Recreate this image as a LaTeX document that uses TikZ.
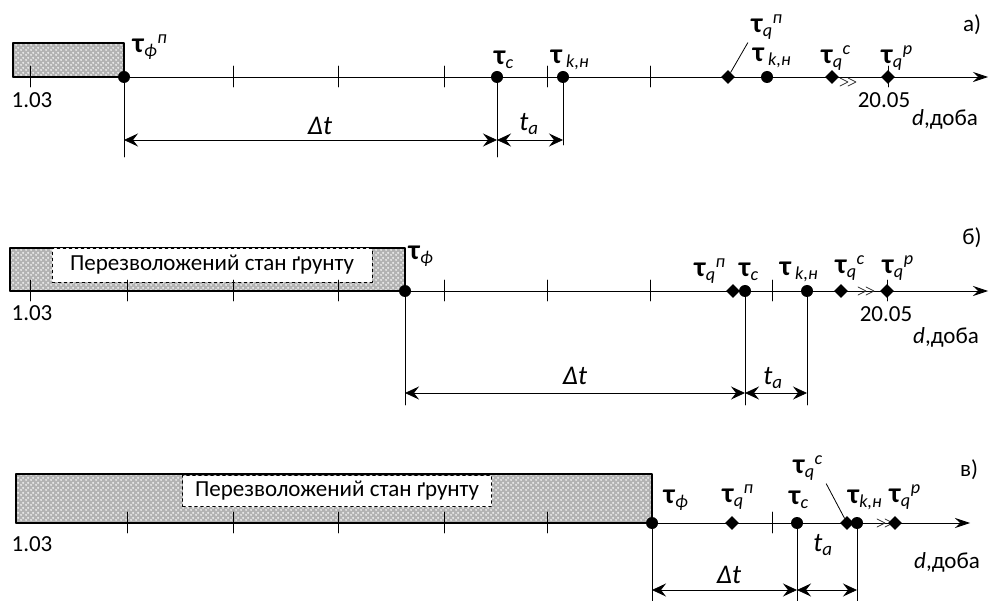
\documentclass[tikz,border=0pt]{standalone}
\usepackage{fontspec}
\setmainfont{Carlito}
\usetikzlibrary{arrows.meta, calc, positioning, patterns, shapes.geometric}

\pgfdeclarepatternformonly{soildots}{\pgfpointorigin}{\pgfqpoint{5pt}{5pt}}{\pgfqpoint{5pt}{5pt}}{%
  \pgfpathcircle{\pgfqpoint{1.25pt}{1.25pt}}{1.3pt}%
  \pgfpathcircle{\pgfqpoint{3.75pt}{3.75pt}}{1.3pt}%
  \pgfusepath{fill}}

\newcommand{\tq}[2]{{\fontsize{28}{28}\selectfont\textbf{τ}}{\fontsize{26}{26}\selectfont\textsubscript{\textit{#1}}\textsuperscript{\textit{#2}}}}
\newcommand{\ts}[1]{{\fontsize{28}{28}\selectfont\textbf{τ}}{\fontsize{26}{26}\selectfont\textsubscript{\textit{#1}}}}
\newcommand{\tkn}{{\fontsize{28}{28}\selectfont\textbf{τ}}\,{\fontsize{26}{26}\selectfont\textsubscript{\textit{k,н}}}}

\tikzset{
  dot/.style={circle, fill=black, inner sep=0pt, minimum size=12pt},
  romb/.style={diamond, fill=black, inner sep=0pt, minimum size=14pt},
  soil/.style={line width=1.6pt, preaction={fill=gray!60}, pattern=soildots, pattern color=gray!15},
  soilnote/.style={draw, dashed, thin, fill=white, inner sep=0pt},
  axis/.style={line width=0.8pt, -{Stealth[length=15pt, width=10pt, inset=5pt]}},
  dim/.style={line width=0.8pt, {Stealth[length=14pt, width=13pt, inset=5pt]}-{Stealth[length=14pt, width=13pt, inset=5pt]}},
  dimlbl/.style={font=\fontsize{27}{27}\selectfont\itshape},
  tk/.style={line width=0.8pt},
  brk/.style={gray!40!black, line width=0.7pt}
}

\begin{document}
\begin{tikzpicture}[x=1pt, y=-1pt, font=\fontsize{23}{26}\selectfont, line cap=round, line join=round]
  \useasboundingbox (0,0) rectangle (990,601);

  % ---- a) ----
  \coordinate (a0) at (13,77);
  \coordinate (a1) at (988,77);
  \draw[soil] (13,43) rectangle (124,77);
  \draw[axis] (a0) -- (a1);
  \foreach \x in {30,233,338,444,547,650,888}
    \draw[tk] (\x,66) -- (\x,87);
  \foreach \x in {840,848}
    \draw[brk] (\x,78) -- (\x+8,82) -- (\x,86);
  \node[dot] (fa) at (124,77) {};
  \node[dot] (ca) at (497,77) {};
  \node[dot] (kna) at (563,77) {};
  \node[romb] (qpa) at (728,77) {};
  \node[dot] (kna2) at (767,77) {};
  \node[romb] (qca) at (832,77) {};
  \node[romb] (qra) at (888,77) {};
  \node (lfa) at (150,47) {\tq{ф}{п}};
  \node (lca) at (504,60) {\ts{c}};
  \node (lkna) at (570,60) {\tkn};
  \node (lqpa) at (767,27) {\tq{q}{п}};
  \node (lkna2) at (772,58) {\tkn};
  \node (lqca) at (836,58) {\tq{q}{c}};
  \node (lqra) at (897,58) {\tq{q}{p}};
  \draw[tk] (lqpa.south west) -- (qpa);
  \node (na) at (32,100) {1.03};
  \node (ea) at (884,100) {20.05};
  \node (da) at (945,119) {\textit{d},доба};
  \node (pa) at (972,25) {а)};
  % розміри
  \coordinate (fa') at (124,157);
  \coordinate (ca') at (497,157);
  \coordinate (kna') at (563,145);
  \coordinate (ya) at (0,140);
  \draw[tk] (fa) -- (fa');
  \draw[tk] (ca) -- (ca');
  \draw[tk] (kna) -- (kna');
  \draw[dim] (fa |- ya) -- (ca |- ya);
  \draw[dim] (ca |- ya) -- (kna |- ya);
  \node[dimlbl] (dta) at (320,126) {Δt};
  \node[dimlbl] (taa) at (529,124) {t\textsubscript{a}};

  % ---- б) ----
  \coordinate (b0) at (10,291);
  \coordinate (b1) at (988,291);
  \draw[soil] (10,248) rectangle (405,291);
  \node[soilnote, minimum width=320pt, minimum height=34pt] (nb) at (212,265) {Перезволожений стан ґрунту};
  \draw[axis] (b0) -- (b1);
  \foreach \x in {30,127,233,338,444,547,650,772,887}
    \draw[tk] (\x,280) -- (\x,301);
  \foreach \x in {858,866}
    \draw[brk] (\x,287) -- (\x+8,291) -- (\x,295);
  \node[dot] (fb) at (405,291) {};
  \node[romb] (qpb) at (733,291) {};
  \node[dot] (cb) at (745,291) {};
  \node[dot] (knb) at (807,291) {};
  \node[romb] (qcb) at (841,291) {};
  \node[romb] (qrb) at (887,291) {};
  \node (lfb) at (421,256) {\ts{ф}};
  \node (lqpb) at (710,271) {\tq{q}{п}};
  \node (lcb) at (749,272) {\ts{c}};
  \node (lknb) at (799,272) {\tkn};
  \node (lqcb) at (850,268) {\tq{q}{c}};
  \node (lqrb) at (898,268) {\tq{q}{p}};
  \node (nbx) at (32,313) {1.03};
  \node (eb) at (886,314) {20.05};
  \node (db) at (946,337) {\textit{d},доба};
  \node (pb) at (972,238) {б)};
  % розміри
  \coordinate (fb') at (405,405);
  \coordinate (cb') at (745,405);
  \coordinate (knb') at (807,405);
  \coordinate (yb) at (0,393);
  \draw[tk] (fb) -- (fb');
  \draw[tk] (cb) -- (cb');
  \draw[tk] (knb) -- (knb');
  \draw[dim] (fb |- yb) -- (cb |- yb);
  \draw[dim] (cb |- yb) -- (knb |- yb);
  \node[dimlbl] (dtb) at (575,376) {Δt};
  \node[dimlbl] (tab) at (773,378) {t\textsubscript{a}};

  % ---- в) ----
  \coordinate (c0) at (16,523);
  \coordinate (c1) at (970,523);
  \draw[soil] (16,474) rectangle (652,523);
  \node[soilnote, minimum width=309pt, minimum height=31pt] (nc) at (337,491) {Перезволожений стан ґрунту};
  \draw[axis] (c0) -- (c1);
  \foreach \x in {127,233,338,444,547,772}
    \draw[tk] (\x,512) -- (\x,533);
  \foreach \x in {877,885}
    \draw[brk] (\x,519) -- (\x+8,523) -- (\x,527);
  \node[dot] (fc) at (652,523) {};
  \node[romb] (qpc) at (732,523) {};
  \node[dot] (cc) at (797,523) {};
  \node[romb] (qcc) at (847,523) {};
  \node[dot] (knc) at (857,523) {};
  \node[romb] (qrc) at (895,523) {};
  \node (lfc) at (676,500) {\ts{ф}};
  \node (lqpc) at (738,497) {\tq{q}{п}};
  \node (lcc) at (799,500) {\ts{c}};
  \node (lqcc) at (808,468) {\tq{q}{c}};
  \node (lknc) at (865,500) {{\fontsize{28}{28}\selectfont\textbf{τ}}{\fontsize{26}{26}\selectfont\textsubscript{\textit{k,н}}}};
  \node (lqrc) at (905,497) {\tq{q}{p}};
  \draw[tk] (lqcc.south east) -- (qcc);
  \node (ncx) at (32,544) {1.03};
  \node (dc) at (947,562) {\textit{d},доба};
  \node (pc) at (969,470) {в)};
  % розміри
  \coordinate (fc') at (652,601);
  \coordinate (cc') at (797,601);
  \coordinate (knc') at (857,601);
  \coordinate (yc) at (0,590);
  \draw[tk] (fc) -- (fc');
  \draw[tk] (cc) -- (cc');
  \draw[tk] (knc) -- (knc');
  \draw[dim] (fc |- yc) -- (cc |- yc);
  \draw[dim] (cc |- yc) -- (knc |- yc);
  \node[dimlbl] (dtc) at (729,575) {Δt};
  \node[dimlbl] (tac) at (823,545) {t\textsubscript{a}};
\end{tikzpicture}
\end{document}
